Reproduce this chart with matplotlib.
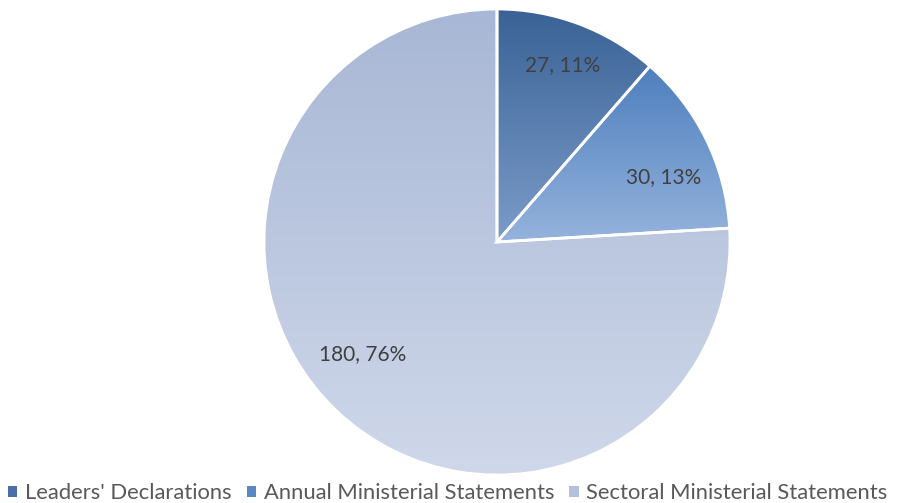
import numpy as np
import matplotlib
matplotlib.use("Agg")
import matplotlib.pyplot as plt
from matplotlib.colors import LinearSegmentedColormap
from matplotlib.patches import Patch

categories = ["Leaders' Declarations", "Annual Ministerial Statements", "Sectoral Ministerial Statements"]
values = [27, 30, 180]
top_colors = ["#3a6296", "#4e7fbe", "#a8b7d5"]
bottom_colors = ["#7b9cc9", "#95b3dc", "#cfd8ea"]
legend_colors = ["#4a6fa5", "#5b87c5", "#b3c1dd"]

plt.rcParams['font.family'] = ['Lato', 'DejaVu Sans']

W, H = 898, 503
fig = plt.figure(figsize=(W / 100, H / 100), dpi=100)
ax = fig.add_axes([0, 0, 1, 1])

total = sum(values)
cx, cy, R = 497, 261, 233
wedges, _ = ax.pie(values, startangle=90, counterclock=False, center=(cx, cy), radius=R,
                   wedgeprops=dict(edgecolor='white', linewidth=2.0), frame=True)

for w, c0, c1 in zip(wedges, top_colors, bottom_colors):
    ext = w.get_path().get_extents()
    cmap = LinearSegmentedColormap.from_list('g', [c1, c0])
    grad = np.linspace(0, 1, 256).reshape(-1, 1)
    im = ax.imshow(grad, cmap=cmap, extent=[ext.x0, ext.x1, ext.y0, ext.y1],
                   origin='lower', aspect='auto', zorder=w.get_zorder() - 0.1)
    im.set_clip_path(w)
    w.set_facecolor('none')

# label placement: radial distance and angular nudge (degrees) per slice
dists = [0.81, 0.765, 0.75]
nudges = [0, -5, -7]
cum = 0
for v, d, n in zip(values, dists, nudges):
    mid = 90 - (cum + v / 2) / total * 360 + n
    cum += v
    x = cx + d * R * np.cos(np.radians(mid))
    y = cy + d * R * np.sin(np.radians(mid))
    ax.text(x, y, f"{v}, {round(v / total * 100)}%", ha='center', va='center',
            fontsize=15, color='#404040', zorder=5)

ax.set_xlim(0, W)
ax.set_ylim(0, H)
ax.axis('off')

handles = [Patch(facecolor=c, edgecolor='none') for c in legend_colors]
fig.legend(handles, categories, loc='lower center', bbox_to_anchor=(0.4985, -0.04), ncol=3,
           frameon=False, fontsize=15.8, labelcolor='#595959', handlelength=0.42,
           handleheight=0.42, handletextpad=0.35, columnspacing=0.7)

fig.savefig('out.png', dpi=100, facecolor='white')
